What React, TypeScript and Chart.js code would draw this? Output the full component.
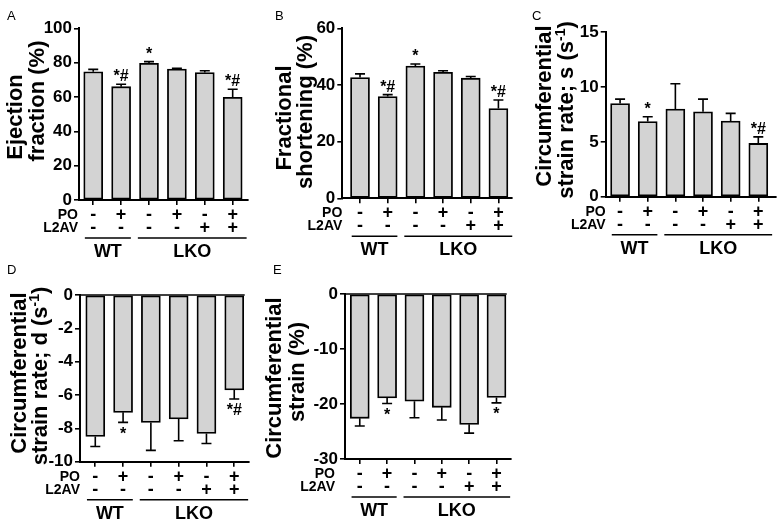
import React, { useEffect, useRef } from 'react';
import { Chart, registerables } from 'chart.js';

Chart.register(...registerables);

const FONT = "'Liberation Sans', Arial, Helvetica, sans-serif";
const W = 782;
const H = 526;

// ---- shared category data ----
const poRow = ['-', '+', '-', '+', '-', '+'];
const l2avRow = ['-', '-', '-', '-', '+', '+'];
const rowNames = ['PO', 'L2AV'];
const groupNames = ['WT', 'LKO'];
const groupFirst = [0, 2];
const groupLast = [1, 5];

// ---- A: ejection fraction ----
const efMean = [74.7, 66.0, 79.6, 76.3, 74.2, 59.8];
const efSem = [1.4, 1.4, 1.0, 0.4, 1.1, 4.7];
const efMarks = ['', '*#', '*', '', '', '*#'];

// ---- B: fractional shortening ----
const fsMean = [42.6, 35.9, 46.7, 44.5, 42.4, 31.7];
const fsSem = [1.3, 0.7, 0.7, 0.5, 0.6, 3.0];
const fsMarks = ['', '*#', '*', '', '', '*#'];

// ---- C: circumferential strain rate; s ----
const csrsMean = [8.5, 6.85, 8.0, 7.75, 6.9, 4.86];
const csrsSem = [0.4, 0.45, 2.3, 1.15, 0.7, 0.6];
const csrsMarks = ['', '*', '', '', '', '*#'];

// ---- D: circumferential strain rate; d ----
const csrdMean = [-8.49, -7.04, -7.65, -7.44, -8.31, -5.69];
const csrdSem = [0.6, 0.6, 1.67, 1.3, 0.6, 0.55];
const csrdMarks = ['', '*', '', '', '', '*#'];

// ---- E: circumferential strain ----
const csMean = [-22.6, -18.9, -19.5, -20.6, -23.7, -18.8];
const csSem = [1.4, 1.0, 3.0, 2.3, 1.6, 1.0];
const csMarks = ['', '*', '', '', '', '*'];

type Seg = { t: string; sup?: boolean };
type Panel = {
  letter: string;
  letterPos: [number, number];
  title: Seg[][];
  titleX: number[];
  titleY: number[];
  mean: number[];
  sem: number[];
  marks: string[];
  yMin: number;
  yMax: number;
  yStep: number;
  area: { left: number; top: number; right: number; bottom: number };
  xRange: [number, number];
  rowLabelGap: number;
};

const panels: Panel[] = [
  {
    letter: 'A', letterPos: [7, 20],
    title: [[{ t: 'Ejection' }], [{ t: 'fraction (%)' }]], titleX: [16, 37.5], titleY: [117, 101],
    mean: efMean, sem: efSem, marks: efMarks, yMin: 0, yMax: 100, yStep: 20,
    area: { left: 79, top: 28.3, right: 248.3, bottom: 200 }, xRange: [-0.51, 5.56], rowLabelGap: 1,
  },
  {
    letter: 'B', letterPos: [275, 20],
    title: [[{ t: 'Fractional' }], [{ t: 'shortening (%)' }]], titleX: [285, 306], titleY: [118, 112],
    mean: fsMean, sem: fsSem, marks: fsMarks, yMin: 0, yMax: 60, yStep: 20,
    area: { left: 342.3, top: 28.3, right: 511.7, bottom: 198.3 }, xRange: [-0.64, 5.48], rowLabelGap: 0,
  },
  {
    letter: 'C', letterPos: [532, 20],
    title: [[{ t: 'Circumferential' }], [{ t: 'strain rate; s (s' }, { t: '-1', sup: true }, { t: ')' }]],
    titleX: [545, 567], titleY: [106, 110],
    mean: csrsMean, sem: csrsSem, marks: csrsMarks, yMin: 0, yMax: 15, yStep: 5,
    area: { left: 605.7, top: 32.3, right: 776, bottom: 196.7 }, xRange: [-0.52, 5.64], rowLabelGap: 0,
  },
  {
    letter: 'D', letterPos: [7, 274],
    title: [[{ t: 'Circumferential' }], [{ t: 'strain rate; d (s' }, { t: '-1', sup: true }, { t: ')' }]],
    titleX: [20, 41], titleY: [373, 376],
    mean: csrdMean, sem: csrdSem, marks: csrdMarks, yMin: -10, yMax: 0, yStep: 2,
    area: { left: 80, top: 295, right: 248.7, bottom: 461.7 }, xRange: [-0.55, 5.52], rowLabelGap: 0,
  },
  {
    letter: 'E', letterPos: [273, 274],
    title: [[{ t: 'Circumferential' }], [{ t: 'strain (%)' }]], titleX: [275, 298], titleY: [378, 372],
    mean: csMean, sem: csSem, marks: csMarks, yMin: -30, yMax: 0, yStep: 10,
    area: { left: 345, top: 294, right: 510.7, bottom: 459 }, xRange: [-0.54, 5.52], rowLabelGap: 10,
  },
];

function drawTitleLine(ctx: CanvasRenderingContext2D, segs: Seg[], cx: number, cy: number) {
  const main = `bold 22px ${FONT}`;
  const sup = `bold 14px ${FONT}`;
  ctx.save();
  ctx.translate(cx, cy);
  ctx.rotate(-Math.PI / 2);
  ctx.textBaseline = 'middle';
  ctx.textAlign = 'left';
  let total = 0;
  for (const s of segs) {
    ctx.font = s.sup ? sup : main;
    total += ctx.measureText(s.t).width;
  }
  let x = -total / 2;
  for (const s of segs) {
    ctx.font = s.sup ? sup : main;
    ctx.fillText(s.t, x, s.sup ? -6 : 0);
    x += ctx.measureText(s.t).width;
  }
  ctx.restore();
}

function makePlugin(p: Panel) {
  return {
    id: 'extras' + p.letter,
    afterDatasetsDraw(chart: any) {
      const ctx: CanvasRenderingContext2D = chart.ctx;
      const xs = chart.scales.x;
      const ys = chart.scales.y;
      const area = chart.chartArea;
      ctx.save();
      ctx.strokeStyle = '#000';
      ctx.lineWidth = 1.6;
      if (p.yMax === 0) {
        const y0 = ys.getPixelForValue(0);
        ctx.beginPath();
        ctx.moveTo(area.left, y0);
        ctx.lineTo(area.right - 4, y0);
        ctx.stroke();
      }
      p.mean.forEach((m, i) => {
        const dir = m >= 0 ? 1 : -1;
        const x = xs.getPixelForValue(i);
        const y0 = ys.getPixelForValue(m);
        const y1 = ys.getPixelForValue(m + dir * p.sem[i]);
        ctx.beginPath();
        ctx.moveTo(x, y0);
        ctx.lineTo(x, y1);
        ctx.moveTo(x - 5, y1);
        ctx.lineTo(x + 5, y1);
        ctx.stroke();
        const mark = p.marks[i];
        if (mark) {
          ctx.fillStyle = '#000';
          ctx.font = `bold 16px ${FONT}`;
          ctx.textAlign = 'center';
          if (dir > 0) {
            ctx.textBaseline = 'alphabetic';
            ctx.fillText(mark, x, y1 - 3);
          } else {
            ctx.textBaseline = 'top';
            ctx.fillText(mark, x, y1 + 4);
          }
        }
      });
      ctx.restore();
    },
    afterDraw(chart: any) {
      const ctx: CanvasRenderingContext2D = chart.ctx;
      const xs = chart.scales.x;
      const area = chart.chartArea;
      ctx.save();
      ctx.fillStyle = '#000';
      ctx.strokeStyle = '#000';
      ctx.font = `13px ${FONT}`;
      ctx.textAlign = 'left';
      ctx.textBaseline = 'alphabetic';
      ctx.fillText(p.letter, p.letterPos[0], p.letterPos[1]);
      p.title.forEach((line, k) => drawTitleLine(ctx, line, p.titleX[k], p.titleY[k]));
      const rows = [poRow, l2avRow];
      const rowY = [area.bottom + 15, area.bottom + 28];
      rows.forEach((row, r) => {
        ctx.textBaseline = 'middle';
        ctx.textAlign = 'right';
        ctx.font = `bold 14px ${FONT}`;
        ctx.fillText(rowNames[r], area.left - p.rowLabelGap, rowY[r]);
        ctx.textAlign = 'center';
        ctx.font = `bold 18px ${FONT}`;
        row.forEach((s, i) => {
          ctx.fillText(s, xs.getPixelForValue(i), rowY[r]);
        });
      });
      ctx.lineWidth = 1.6;
      groupNames.forEach((g, k) => {
        const x1 = xs.getPixelForValue(groupFirst[k] - (k === 0 ? 0.3 : 0.4));
        const x2 = xs.getPixelForValue(groupLast[k] + (k === 0 ? 0.35 : 0.5));
        const ly = area.bottom + 38;
        ctx.beginPath();
        ctx.moveTo(x1, ly);
        ctx.lineTo(x2, ly);
        ctx.stroke();
        ctx.font = `bold 18px ${FONT}`;
        ctx.textAlign = 'center';
        ctx.textBaseline = 'middle';
        ctx.fillText(g, (x1 + x2) / 2, area.bottom + 52);
      });
      ctx.restore();
    },
  };
}

function buildConfig(p: Panel): any {
  return {
    type: 'bar',
    data: {
      datasets: [
        {
          data: p.mean.map((v, i) => ({ x: i, y: v })),
          backgroundColor: '#d3d3d3',
          borderColor: '#000',
          borderWidth: 1.8,
          borderSkipped: false,
          barThickness: 19,
        },
      ],
    },
    options: {
      animation: false,
      responsive: false,
      devicePixelRatio: 1,
      events: [],
      layout: {
        padding: {
          left: 0,
          top: p.area.top,
          right: W - p.area.right,
          bottom: H - p.area.bottom,
        },
      },
      plugins: { legend: { display: false }, tooltip: { enabled: false }, title: { display: false } },
      scales: {
        x: {
          type: 'linear',
          min: p.xRange[0],
          max: p.xRange[1],
          offset: false,
          afterBuildTicks: (s: any) => {
            s.ticks = p.mean.map((_, i) => ({ value: i }));
          },
          afterFit: (s: any) => {
            s.height = 0;
          },
          ticks: { display: false },
          grid: {
            display: true,
            offset: false,
            drawOnChartArea: false,
            drawTicks: true,
            tickLength: 5,
            color: '#000',
            lineWidth: 1.6,
          },
          border: { display: true, color: '#000', width: 2 },
        },
        y: {
          type: 'linear',
          min: p.yMin,
          max: p.yMax,
          afterFit: (s: any) => {
            s.width = p.area.left;
          },
          ticks: {
            stepSize: p.yStep,
            color: '#000',
            padding: 2,
            font: { family: FONT, size: 17, weight: 'bold' },
          },
          grid: {
            display: true,
            drawOnChartArea: false,
            drawTicks: true,
            tickLength: 5,
            color: '#000',
            lineWidth: 1.6,
          },
          border: { display: true, color: '#000', width: 2 },
        },
      },
    },
    plugins: [makePlugin(p)],
  };
}

function PanelChart({ panel }: { panel: Panel }) {
  const ref = useRef<HTMLCanvasElement | null>(null);
  useEffect(() => {
    if (!ref.current) return;
    const chart = new Chart(ref.current, buildConfig(panel));
    return () => chart.destroy();
  }, [panel]);
  return (
    <canvas
      ref={ref}
      width={W}
      height={H}
      style={{ position: 'absolute', left: 0, top: 0, width: W, height: H }}
    />
  );
}

export default function App() {
  return (
    <div
      style={{
        position: 'fixed',
        left: 0,
        top: 0,
        width: W,
        height: H,
        background: '#fff',
        overflow: 'hidden',
      }}
    >
      {panels.map((p) => (
        <PanelChart key={p.letter} panel={p} />
      ))}
    </div>
  );
}
